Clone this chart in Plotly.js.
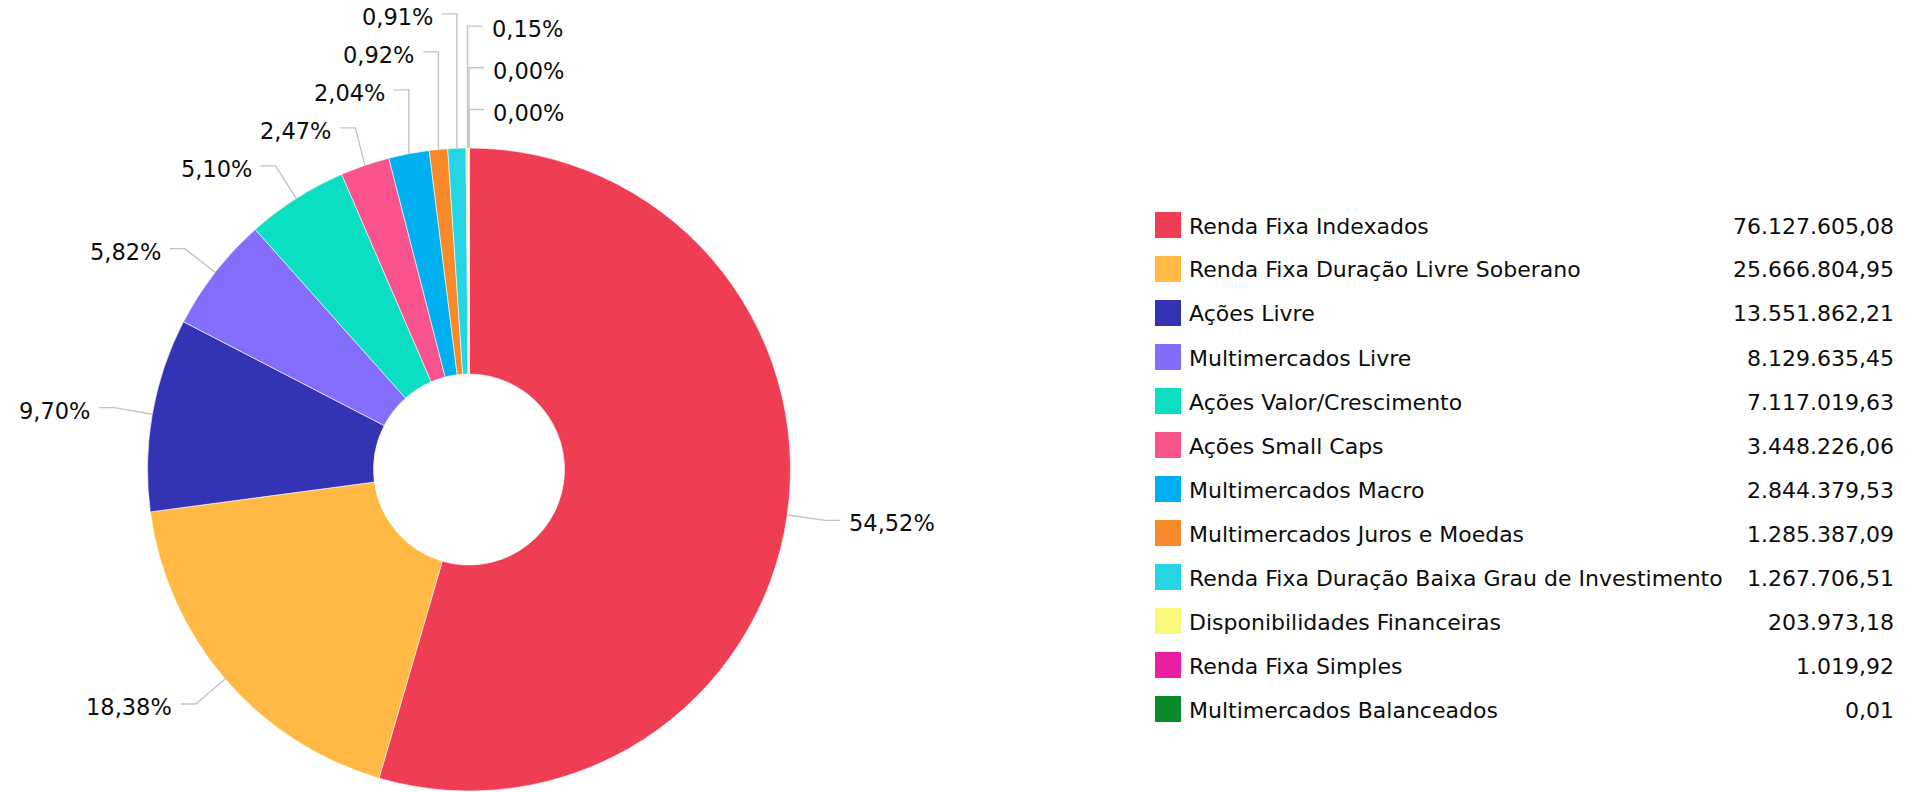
<!DOCTYPE html>
<html><head><meta charset="utf-8">
<script src="https://cdn.plot.ly/plotly-3.0.1.min.js"></script>
<style>html,body{margin:0;padding:0;background:#fff;} #chart{width:1925px;height:792px;}</style>
</head><body><div id="chart"></div>
<script>
const categories = ['Renda Fixa Indexados', 'Renda Fixa Duração Livre Soberano', 'Ações Livre', 'Multimercados Livre', 'Ações Valor/Crescimento', 'Ações Small Caps', 'Multimercados Macro', 'Multimercados Juros e Moedas', 'Renda Fixa Duração Baixa Grau de Investimento', 'Disponibilidades Financeiras', 'Renda Fixa Simples', 'Multimercados Balanceados'];
const values = [76127605.08, 25666804.95, 13551862.21, 8129635.45, 7117019.63, 3448226.06, 2844379.53, 1285387.09, 1267706.51, 203973.18, 1019.92, 0.01];
const colors = ['#EF3E54', '#FFB944', '#3333B3', '#826EFA', '#0ADFC4', '#F8538C', '#00AFF0', '#F6892A', '#26D5E3', '#FAFA7A', '#E91EA0', '#0A8A2A'];

const W = 1925, H = 792;
const FONT = 'DejaVu Sans, Verdana, sans-serif';
const CX = 469, CY = 469.5, R = 321.5;
const HOLE = 0.297;
const total = values.reduce((a, b) => a + b, 0);
function fmtNum(v) { const p = v.toFixed(2).split('.'); p[0] = p[0].replace(/\B(?=(\d{3})+(?!\d))/g, '.'); return p.join(','); }
function fmtPct(v) { return (v / total * 100).toFixed(2).replace('.', ',') + '%'; }
const px = x => x / W, py = y => 1 - y / H;

// label layout derived from slice angles
const R2 = R + 38.5;
let cum = 0;
const items = values.map((v, i) => {
  const frac = v / total; const mid = (cum + frac / 2) * 2 * Math.PI; cum += frac;
  const s = Math.sin(mid), c = Math.cos(mid);
  const side = s > -0.01 ? 1 : -1;
  let ang = mid * 180 / Math.PI; if (ang > 180) ang -= 360;
  return { i, side, ang, ex: CX + R * s, ey: CY - R * c, iy: CY - R2 * c };
});
function place(list, sp, order) {
  list.sort(order);
  for (let k = list.length - 1; k >= 0; k--) {
    const it = list[k];
    it.y = (k === list.length - 1) ? it.iy : Math.min(it.iy, list[k + 1].y - sp);
  }
}
const right = items.filter(d => d.side === 1), left = items.filter(d => d.side === -1);
place(right, 41.7, (a, b) => a.ang - b.ang);
place(left, 38, (a, b) => b.ang - a.ang);

const shapes = [], annotations = [];
items.forEach(d => {
  const dy = d.y - CY;
  let bx;
  if (Math.abs(dy) < R2) { bx = CX + d.side * Math.sqrt(R2 * R2 - dy * dy); if (d.side * (bx - d.ex) < 0) bx = d.ex; }
  else bx = d.ex;
  const hx = bx + d.side * 15, tx = hx + d.side * 8;
  shapes.push({ type: 'path', xref: 'paper', yref: 'paper',
    path: `M ${px(d.ex)},${py(d.ey)} L ${px(bx)},${py(d.y)} L ${px(hx)},${py(d.y)}`,
    line: { color: '#c4c4c4', width: 1.4 } });
  annotations.push({ xref: 'paper', yref: 'paper', x: px(tx), y: py(d.y + 3),
    xanchor: d.side === 1 ? 'left' : 'right', yanchor: 'middle', showarrow: false, borderpad: 0,
    text: fmtPct(values[d.i]), font: { family: FONT, size: 22.5, color: '#0d0d0d' } });
});

// custom legend with values
const LX = 1155, LY0 = 225, LSTEP = 44, SQ = 26;
categories.forEach((name, i) => {
  const cy = LY0 + i * LSTEP;
  shapes.push({ type: 'rect', xref: 'paper', yref: 'paper', x0: px(LX), x1: px(LX + SQ), y0: py(cy - SQ / 2), y1: py(cy + SQ / 2),
    fillcolor: colors[i], line: { width: 0 } });
  annotations.push({ xref: 'paper', yref: 'paper', x: px(1188), y: py(cy + 1), xanchor: 'left', yanchor: 'middle', showarrow: false, borderpad: 0,
    text: name, font: { family: FONT, size: 22, color: '#0d0d0d' } });
  annotations.push({ xref: 'paper', yref: 'paper', x: px(1895), y: py(cy + 1), xanchor: 'right', yanchor: 'middle', showarrow: false, borderpad: 0,
    text: fmtNum(values[i]), font: { family: FONT, size: 22, color: '#0d0d0d' } });
});

const trace = {
  type: 'pie', labels: categories, values: values, sort: false, direction: 'clockwise', rotation: 0,
  hole: HOLE, textinfo: 'none', hoverinfo: 'label+percent',
  marker: { colors: colors, line: { color: '#ffffff', width: 0.6 } },
  domain: { x: [px(CX - R), px(CX + R)], y: [py(CY + R), py(CY - R)] }
};
const layout = {
  width: W, height: H, margin: { l: 0, r: 0, t: 0, b: 0 }, showlegend: false,
  paper_bgcolor: '#ffffff', plot_bgcolor: '#ffffff', font: { family: FONT },
  shapes: shapes, annotations: annotations
};
Plotly.newPlot('chart', [trace], layout, { displayModeBar: false, staticPlot: true });
</script></body></html>
